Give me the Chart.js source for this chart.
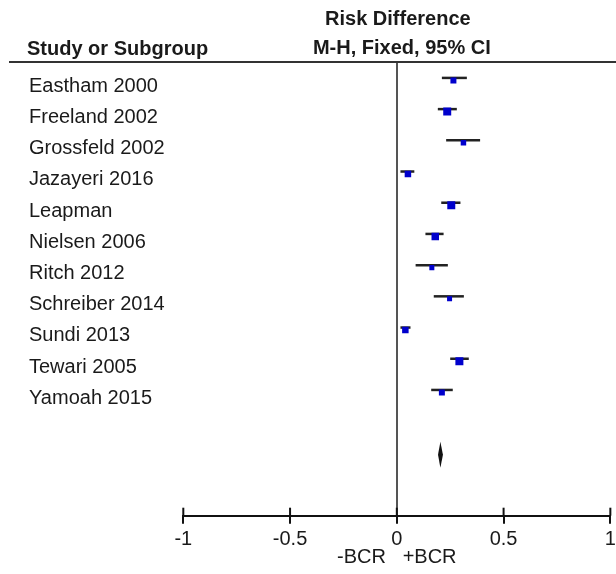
<!DOCTYPE html>
<html><head><meta charset="utf-8">
<script src="https://cdn.jsdelivr.net/npm/chart.js@4.4.1/dist/chart.umd.min.js"></script>
<style>html,body{margin:0;padding:0;background:#fff}#wrap{width:616px;height:574px;position:relative}</style>
</head><body><div id="wrap"><canvas id="c" width="616" height="574"></canvas></div>
<script>
// ---- data ----
const studies = ["Eastham 2000","Freeland 2002","Grossfeld 2002","Jazayeri 2016","Leapman","Nielsen 2006","Ritch 2012","Schreiber 2014","Sundi 2013","Tewari 2005","Yamoah 2015"];
const estimates = [0.265, 0.236, 0.312, 0.052, 0.255, 0.180, 0.164, 0.247, 0.040, 0.293, 0.211];
const lowerCI   = [0.211, 0.192, 0.231, 0.017, 0.208, 0.134, 0.088, 0.173, 0.017, 0.250, 0.161];
const upperCI   = [0.328, 0.281, 0.390, 0.082, 0.298, 0.219, 0.239, 0.314, 0.064, 0.337, 0.262];
const weights   = [7.4, 13.2, 6.2, 8.7, 13.2, 11.6, 5.2, 5.2, 8.7, 13.2, 7.4];
const pooledEstimate = [0.204];
const pooledCI = [0.193, 0.216];
const xTicks = [-1, -0.5, 0, 0.5, 1];
const headerLeft = "Study or Subgroup";
const headerRight = ["Risk Difference", "M-H, Fixed, 95% CI"];
const axisTitle = "-BCR   +BCR";

const FONT = "'Liberation Sans', Arial, Helvetica, sans-serif";
const TEXT = '#1a1a1a';
const pooledRow = studies.length + 1;

const forestPlugin = {
  id: 'forest',
  beforeDatasetsDraw(chart) {
    const {ctx, scales: {x, y}} = chart;
    ctx.save();
    ctx.strokeStyle = '#222';
    ctx.lineWidth = 2.5;
    studies.forEach((s, i) => {
      const py = y.getPixelForValue(i) - 2.5;
      ctx.beginPath();
      ctx.moveTo(x.getPixelForValue(lowerCI[i]), py);
      ctx.lineTo(x.getPixelForValue(upperCI[i]), py);
      ctx.stroke();
    });
    // pooled diamond
    const cy = y.getPixelForValue(pooledRow);
    const cx = x.getPixelForValue(pooledEstimate[0]);
    ctx.fillStyle = '#111';
    ctx.beginPath();
    ctx.moveTo(x.getPixelForValue(pooledCI[0]), cy);
    ctx.lineTo(cx, cy - 13);
    ctx.lineTo(x.getPixelForValue(pooledCI[1]), cy);
    ctx.lineTo(cx, cy + 13);
    ctx.closePath();
    ctx.fill();
    ctx.restore();
  },
  afterDraw(chart) {
    const {ctx, chartArea, scales: {x, y}} = chart;
    ctx.save();
    // header line
    ctx.strokeStyle = '#333';
    ctx.lineWidth = 2;
    ctx.beginPath();
    ctx.moveTo(9, chartArea.top);
    ctx.lineTo(616, chartArea.top);
    ctx.stroke();
    // upward tick stubs
    ctx.strokeStyle = '#111';
    xTicks.forEach(v => {
      const px = x.getPixelForValue(v);
      ctx.beginPath();
      ctx.moveTo(px, chartArea.bottom - 8);
      ctx.lineTo(px, chartArea.bottom);
      ctx.stroke();
    });
    // headers
    ctx.fillStyle = TEXT;
    ctx.textBaseline = 'alphabetic';
    ctx.font = `bold 20px ${FONT}`;
    ctx.textAlign = 'left';
    ctx.fillText(headerLeft, 27, 55);
    ctx.textAlign = 'center';
    const zx = x.getPixelForValue(0);
    ctx.fillText(headerRight[0], zx + 1, 25);
    ctx.fillText(headerRight[1], zx + 5, 54);
    // study labels
    ctx.font = `20px ${FONT}`;
    ctx.textAlign = 'left';
    studies.forEach((s, i) => {
      ctx.fillText(s, 29, y.getPixelForValue(i) + 11.3);
    });
    ctx.restore();
  }
};

new Chart(document.getElementById('c'), {
  type: 'scatter',
  data: {
    datasets: [{
      data: estimates.map((v, i) => ({x: v, y: i})),
      pointStyle: 'rect',
      pointRadius: weights.map(w => 2.2 * Math.sqrt(w) / Math.SQRT2),
      backgroundColor: '#0000cc',
      borderWidth: 0
    }]
  },
  options: {
    responsive: false,
    animation: false,
    events: [],
    layout: {padding: {left: 183.3, right: 0, top: 62, bottom: 0}},
    plugins: {legend: {display: false}, tooltip: {enabled: false}},
    scales: {
      x: {
        type: 'linear', min: -1, max: 1,
        afterBuildTicks: s => { s.ticks = xTicks.map(v => ({value: v})); },
        afterFit: s => { s.height = 58.3; s.paddingRight = 5.3; s.paddingLeft = 0; },
        grid: {
          drawOnChartArea: true,
          color: c => (c.tick && c.tick.value === 0) ? '#555' : 'rgba(0,0,0,0)',
          lineWidth: 2,
          tickColor: '#111',
          tickLength: 8,
          tickWidth: 2
        },
        border: {display: true, color: '#111', width: 2},
        ticks: {font: {family: FONT, size: 20}, color: TEXT, padding: 4, maxRotation: 0, callback: v => String(v)},
        title: {display: true, text: axisTitle, font: {family: FONT, size: 20}, color: TEXT, padding: {top: 0, bottom: 5}}
      },
      y: {type: 'linear', display: false, reverse: true, min: -0.59, max: 13.95}
    }
  },
  plugins: [forestPlugin]
});
</script>
</body></html>
